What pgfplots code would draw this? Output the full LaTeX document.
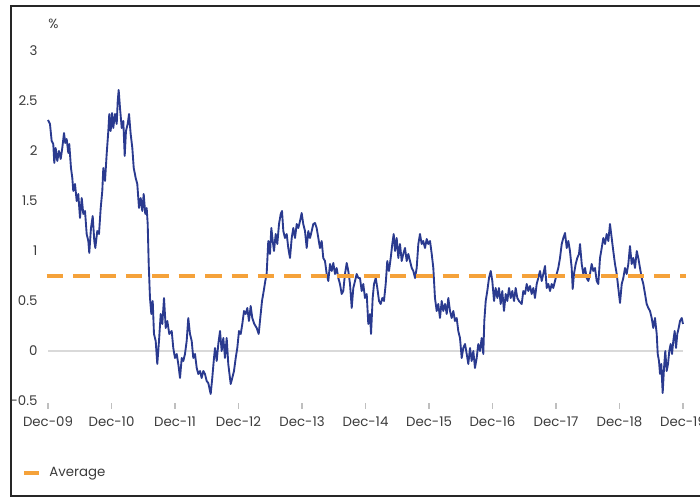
\documentclass[border=0pt]{standalone}
\usepackage{pgfplots}
\pgfplotsset{compat=1.18}
\usepackage{fontspec}
\setmainfont{Poppins}
\definecolor{lineblue}{HTML}{2A3A8F}
\definecolor{avgorange}{HTML}{F5A23A}
\definecolor{txtgray}{HTML}{3C3C3C}
\definecolor{zerogray}{HTML}{D9D9D9}
\definecolor{tickgray}{HTML}{BFBFBF}

\pgfplotstableread{
t v
0.00 2.31
0.031 2.27
0.058 2.10
0.083 2.07
0.099 1.88
0.121 2.03
0.146 1.90
0.173 2.00
0.200 1.92
0.225 2.03
0.252 2.18
0.272 2.08
0.294 2.12
0.320 1.98
0.335 2.07
0.362 1.83
0.383 1.73
0.398 1.60
0.425 1.67
0.452 1.50
0.477 1.57
0.504 1.33
0.531 1.53
0.556 1.37
0.583 1.40
0.609 1.17
0.635 1.10
0.650 0.98
0.677 1.23
0.704 1.35
0.729 1.10
0.745 1.03
0.776 1.20
0.803 1.17
0.830 1.43
0.855 1.60
0.871 1.83
0.898 1.70
0.924 1.97
0.950 2.20
0.965 2.37
0.987 2.20
1.008 2.38
1.028 2.23
1.055 2.37
1.082 2.27
1.098 2.50
1.113 2.61
1.134 2.43
1.161 2.23
1.186 2.30
1.208 1.95
1.228 2.20
1.255 2.27
1.276 2.37
1.302 2.17
1.328 2.03
1.350 1.83
1.381 1.73
1.406 1.67
1.433 1.43
1.460 1.53
1.485 1.40
1.507 1.57
1.532 1.37
1.554 1.43
1.570 1.27
1.586 0.87
1.606 0.53
1.627 0.37
1.649 0.50
1.669 0.17
1.696 0.10
1.721 -0.13
1.748 0.10
1.775 0.37
1.800 0.27
1.827 0.53
1.854 0.23
1.879 0.30
1.910 0.17
1.948 0.20
1.973 0.03
2.000 -0.07
2.027 -0.03
2.052 -0.13
2.079 -0.27
2.106 -0.07
2.131 -0.10
2.157 -0.03
2.184 0.10
2.209 0.33
2.236 0.17
2.263 0.10
2.288 -0.07
2.315 -0.03
2.342 -0.17
2.367 -0.23
2.394 -0.20
2.420 -0.27
2.446 -0.20
2.472 -0.23
2.499 -0.30
2.524 -0.32
2.562 -0.43
2.587 -0.27
2.614 -0.07
2.630 0.03
2.657 -0.10
2.682 0.07
2.709 0.20
2.735 0.00
2.761 0.13
2.787 -0.07
2.814 0.13
2.839 -0.13
2.877 -0.33
2.902 -0.27
2.929 -0.20
2.956 -0.07
2.981 0.03
3.008 0.20
3.035 0.17
3.060 0.27
3.087 0.40
3.113 0.37
3.139 0.43
3.165 0.30
3.192 0.45
3.217 0.33
3.249 0.27
3.287 0.23
3.318 0.17
3.343 0.33
3.370 0.50
3.397 0.60
3.422 0.70
3.444 0.78
3.469 1.10
3.496 0.97
3.517 1.23
3.539 1.10
3.559 1.00
3.586 1.17
3.611 1.07
3.638 1.27
3.665 1.37
3.685 1.40
3.706 1.20
3.732 1.13
3.759 1.17
3.784 1.03
3.811 0.93
3.838 1.13
3.863 1.23
3.890 1.13
3.917 1.27
3.942 1.23
3.969 1.30
3.995 1.38
4.020 1.27
4.047 1.20
4.074 1.03
4.099 1.20
4.126 1.13
4.153 1.20
4.178 1.27
4.205 1.28
4.231 1.23
4.257 1.13
4.283 1.03
4.310 1.10
4.335 0.93
4.362 0.90
4.389 0.77
4.414 0.70
4.441 0.87
4.468 0.80
4.493 0.88
4.520 0.77
4.546 0.83
4.572 0.73
4.598 0.67
4.625 0.57
4.650 0.60
4.677 0.77
4.704 0.88
4.729 0.80
4.756 0.67
4.783 0.43
4.808 0.63
4.835 0.70
4.861 0.77
4.887 0.73
4.913 0.73
4.940 0.60
4.965 0.67
4.992 0.53
5.019 0.57
5.044 0.27
5.071 0.37
5.087 0.17
5.113 0.53
5.134 0.67
5.161 0.73
5.186 0.63
5.213 0.50
5.239 0.47
5.265 0.53
5.291 0.50
5.318 0.67
5.343 0.90
5.370 0.80
5.397 0.93
5.422 1.07
5.444 1.17
5.465 1.00
5.491 1.13
5.517 0.93
5.543 1.07
5.570 0.90
5.595 0.97
5.622 1.03
5.649 0.90
5.674 0.97
5.701 0.90
5.728 0.83
5.753 0.80
5.780 0.73
5.806 0.83
5.832 1.07
5.858 1.17
5.885 1.07
5.910 1.10
5.937 1.03
5.964 1.12
5.989 1.07
6.016 1.10
6.043 0.97
6.068 0.83
6.094 0.53
6.121 0.40
6.146 0.47
6.173 0.33
6.200 0.50
6.225 0.40
6.252 0.47
6.279 0.37
6.304 0.53
6.331 0.40
6.357 0.33
6.383 0.40
6.409 0.30
6.436 0.33
6.461 0.20
6.488 0.13
6.515 -0.07
6.540 0.03
6.567 0.07
6.594 -0.03
6.619 -0.13
6.646 0.03
6.672 -0.10
6.698 0.00
6.724 -0.17
6.751 -0.07
6.776 0.07
6.803 0.00
6.830 0.13
6.855 -0.03
6.871 0.30
6.893 0.50
6.918 0.60
6.945 0.73
6.972 0.80
6.997 0.70
7.024 0.50
7.050 0.63
7.076 0.53
7.102 0.63
7.129 0.47
7.154 0.60
7.181 0.40
7.208 0.57
7.233 0.50
7.260 0.63
7.287 0.53
7.312 0.60
7.339 0.50
7.365 0.63
7.391 0.53
7.417 0.50
7.460 0.47
7.485 0.60
7.512 0.57
7.539 0.67
7.564 0.60
7.591 0.65
7.617 0.57
7.643 0.63
7.669 0.53
7.696 0.67
7.721 0.73
7.748 0.80
7.775 0.70
7.800 0.77
7.827 0.85
7.854 0.63
7.879 0.67
7.906 0.60
7.932 0.67
7.957 0.63
7.984 0.70
8.011 0.77
8.036 0.83
8.063 0.93
8.090 1.07
8.115 1.13
8.142 1.18
8.169 1.03
8.194 1.10
8.220 1.00
8.247 0.83
8.263 0.62
8.283 0.77
8.310 0.87
8.335 0.93
8.362 0.97
8.378 1.07
8.405 0.87
8.430 0.77
8.457 0.83
8.483 0.73
8.509 0.70
8.535 0.77
8.562 0.87
8.587 0.80
8.614 0.83
8.641 0.70
8.666 0.67
8.693 0.93
8.720 1.03
8.745 1.13
8.772 1.07
8.798 1.17
8.824 1.10
8.850 1.27
8.877 1.13
8.902 1.00
8.929 0.87
8.956 0.77
8.981 0.63
9.008 0.48
9.035 0.67
9.060 0.73
9.087 0.83
9.113 0.77
9.139 0.87
9.165 1.05
9.192 0.87
9.217 0.93
9.244 0.83
9.272 1.00
9.296 0.93
9.323 0.83
9.350 0.73
9.375 0.67
9.402 0.57
9.428 0.47
9.454 0.43
9.480 0.40
9.507 0.33
9.532 0.23
9.559 0.33
9.586 0.17
9.602 -0.03
9.622 -0.10
9.638 -0.23
9.658 -0.13
9.680 -0.42
9.701 -0.17
9.721 0.00
9.743 -0.20
9.764 -0.13
9.784 0.00
9.806 0.07
9.827 -0.03
9.847 0.10
9.869 0.20
9.890 0.03
9.910 0.17
9.932 0.23
9.953 0.30
9.980 0.33
10.00 0.27
}\series

\begin{document}
\begin{tikzpicture}
\begin{axis}[
    at={(36pt,-300.75pt)}, anchor=south west,
    scale only axis, width=476.25pt, height=262.5pt,
    xmin=0, xmax=10, ymin=-0.5, ymax=3,
    clip=false,
    axis line style={draw=none},
    xtick={0,1,2,3,4,5,6,7,8,9,10},
    xticklabels={Dec-09,Dec-10,Dec-11,Dec-12,Dec-13,Dec-14,Dec-15,Dec-16,Dec-17,Dec-18,Dec-19},
    ytick={-0.5,0,0.5,1,1.5,2,2.5,3},
    tick pos=left,
    xtick align=outside,
    major tick length=4.5pt,
    x tick style={tickgray, line width=0.8pt, yshift=-1.5pt},
    y tick style={draw=none},
    tick label style={font=\fontsize{10}{12}\selectfont, text=txtgray},
    xticklabel style={anchor=north, inner sep=0pt, yshift=-7pt},
    yticklabel style={anchor=east, inner sep=0pt, xshift=-7.7pt},
    /pgf/number format/assume math mode=true,
    legend style={at={(axis description cs:-0.0409,-0.2057)}, anchor=west,
        draw=none, fill=none, inner sep=0pt,
        font=\fontsize{10}{12}\selectfont, text=txtgray,
        nodes={inner sep=0pt},
        /tikz/every odd column/.append style={column sep=6pt}},
    legend image code/.code={\draw[#1, solid, line cap=butt] (0pt,0pt) -- (11.25pt,0pt);},
]
\addplot[zerogray, line width=1pt, forget plot] coordinates {(0,0) (10,0)};
\addplot[lineblue, line width=1.4pt, line join=round, forget plot] table[x=t, y=v] {\series};
\addplot[avgorange, line width=3pt, dash pattern=on 12.4pt off 7.4pt] coordinates {(-0.02,0.75) (10.04,0.75)};
\addlegendentry{Average}
\node[anchor=west, inner sep=0pt, text=txtgray, font=\fontsize{10}{12}\selectfont]
    at (rel axis cs:0,1) [yshift=20.5pt] {\%};
\end{axis}
\begin{scope}[x=0.75pt,y=-0.75pt]
\draw[black!85, line width=1.5pt] (730,6) -- (11,6) -- (11,496) -- (730,496);
\pgfresetboundingbox
\useasboundingbox (0,0) rectangle (700,498);
\end{scope}
\end{tikzpicture}
\end{document}
